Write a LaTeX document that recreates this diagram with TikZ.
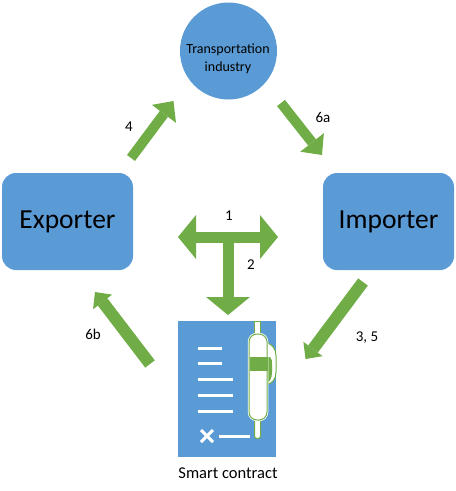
\documentclass[tikz,border=0pt]{standalone}
\usepackage{fontspec}
\setmainfont{Carlito}
\usetikzlibrary{arrows.meta}
\definecolor{boxblue}{HTML}{5B9BD5}
\definecolor{arrowgreen}{HTML}{70AD47}
\tikzset{
  party/.style={draw=none,fill=boxblue,rounded corners=14pt,minimum width=131pt,minimum height=97pt,inner sep=0pt,font=\fontsize{27.5}{30}\selectfont},
  hub/.style={circle,fill=boxblue,minimum size=97pt,inner sep=0pt},
  hubtext/.style={inner sep=0pt,align=center,font=\fontsize{14}{18}\selectfont},
  lbl/.style={inner sep=0pt,font=\fontsize{15}{18}\selectfont},
  caption/.style={inner sep=0pt,font=\fontsize{16.5}{18}\selectfont},
  bigarrow/.style={draw=arrowgreen,line width=10pt,-{Triangle[length=16pt,width=30pt,line width=0pt,fill=arrowgreen]}},
  smallhead/.style={draw=arrowgreen,line width=12pt,-{Triangle[length=12.5pt,width=24pt,line width=0pt,fill=arrowgreen]}},
  teearrow/.style={draw=arrowgreen,line width=11pt,-{Triangle[length=18pt,width=44pt,line width=0pt,fill=arrowgreen]}},
  docline/.style={draw=white,line width=3pt},
  scrollpart/.style={draw=arrowgreen,fill=white,line width=1pt}
}
\begin{document}
\begin{tikzpicture}[x=1pt,y=-1pt]
\useasboundingbox (0,0) rectangle (456,491);
\node[party] (exporter) at (67.5,221.5) {\raisebox{-2.5pt}{Exporter}};
\node[party] (importer) at (388.5,221.5) {\raisebox{-2.5pt}{Importer}};
\node[hub] (transport) at (228.5,51) {};
\node[hubtext] (transporttext) at (228,59) {Transportation\\industry};
\node[fill=boxblue,minimum width=98pt,minimum height=136pt,inner sep=0pt] (contract) at (227,389) {};
\node[caption] (contractlabel) at (228,473) {Smart contract};
% document lines
\foreach \yy/\xe in {348/222,363/222,379/233,395/233,411/233}{
  \draw[docline] (198,\yy) -- (\xe,\yy);
}
\draw[docline] (201,430) -- (213,442);
\draw[docline] (213,430) -- (201,442);
\draw[docline] (219,436) -- (250,436);
% scroll
\draw[scrollpart] (267,343) .. controls (272,344) and (276,349) .. (276,356) -- (276,372) .. controls (276,379) and (272,384) .. (267,384) -- cycle;
\fill[arrowgreen] (267,357) -- (270,357) .. controls (272,359) and (272,361) .. (272,364) -- (272,372) .. controls (272,378) and (270,382) .. (266,384) -- cycle;
\draw[scrollpart] (254.5,321) rectangle (260.5,340);
\draw[scrollpart,rounded corners=2.5pt] (254.5,415) -- (254.5,438.5) -- (260.5,438.5) -- (260.5,415) -- cycle;
\draw[draw=white,line width=2.5pt,rounded corners=8pt] (249,334) rectangle (267,420);
\draw[scrollpart,rounded corners=8pt] (249,334) rectangle (267,420);
\fill[arrowgreen] (249.5,357) rectangle (268,371);
% arrows
\coordinate (a4s) at (131,158);
\coordinate (a4e) at (173.5,101);
\coordinate (a6as) at (281,103);
\coordinate (a6ae) at (322,155);
\coordinate (a35s) at (363,282);
\coordinate (a35e) at (305.5,359);
\coordinate (a6bs) at (150,364);
\coordinate (a6be) at (95,292);
\coordinate (tmid) at (228,237);
\coordinate (tleft) at (178,237);
\coordinate (tright) at (278,237);
\coordinate (tdown) at (228,315);
\draw[bigarrow] (a4s) -- (a4e);
\draw[bigarrow] (a6as) -- (a6ae);
\draw[smallhead] (a35s) -- (a35e);
\draw[smallhead] (a6bs) -- (a6be);
\draw[teearrow] (tmid) -- (tleft);
\draw[teearrow] (tmid) -- (tright);
\draw[teearrow] (tmid) -- (tdown);
% labels
\node[lbl] (l4) at (129,127) {4};
\node[lbl] (l6a) at (323,117) {6a};
\node[lbl] (l1) at (229,216) {1};
\node[lbl] (l2) at (251,265) {2};
\node[lbl] (l35) at (367,338) {3, 5};
\node[lbl] (l6b) at (93,334) {6b};
\end{tikzpicture}
\end{document}
